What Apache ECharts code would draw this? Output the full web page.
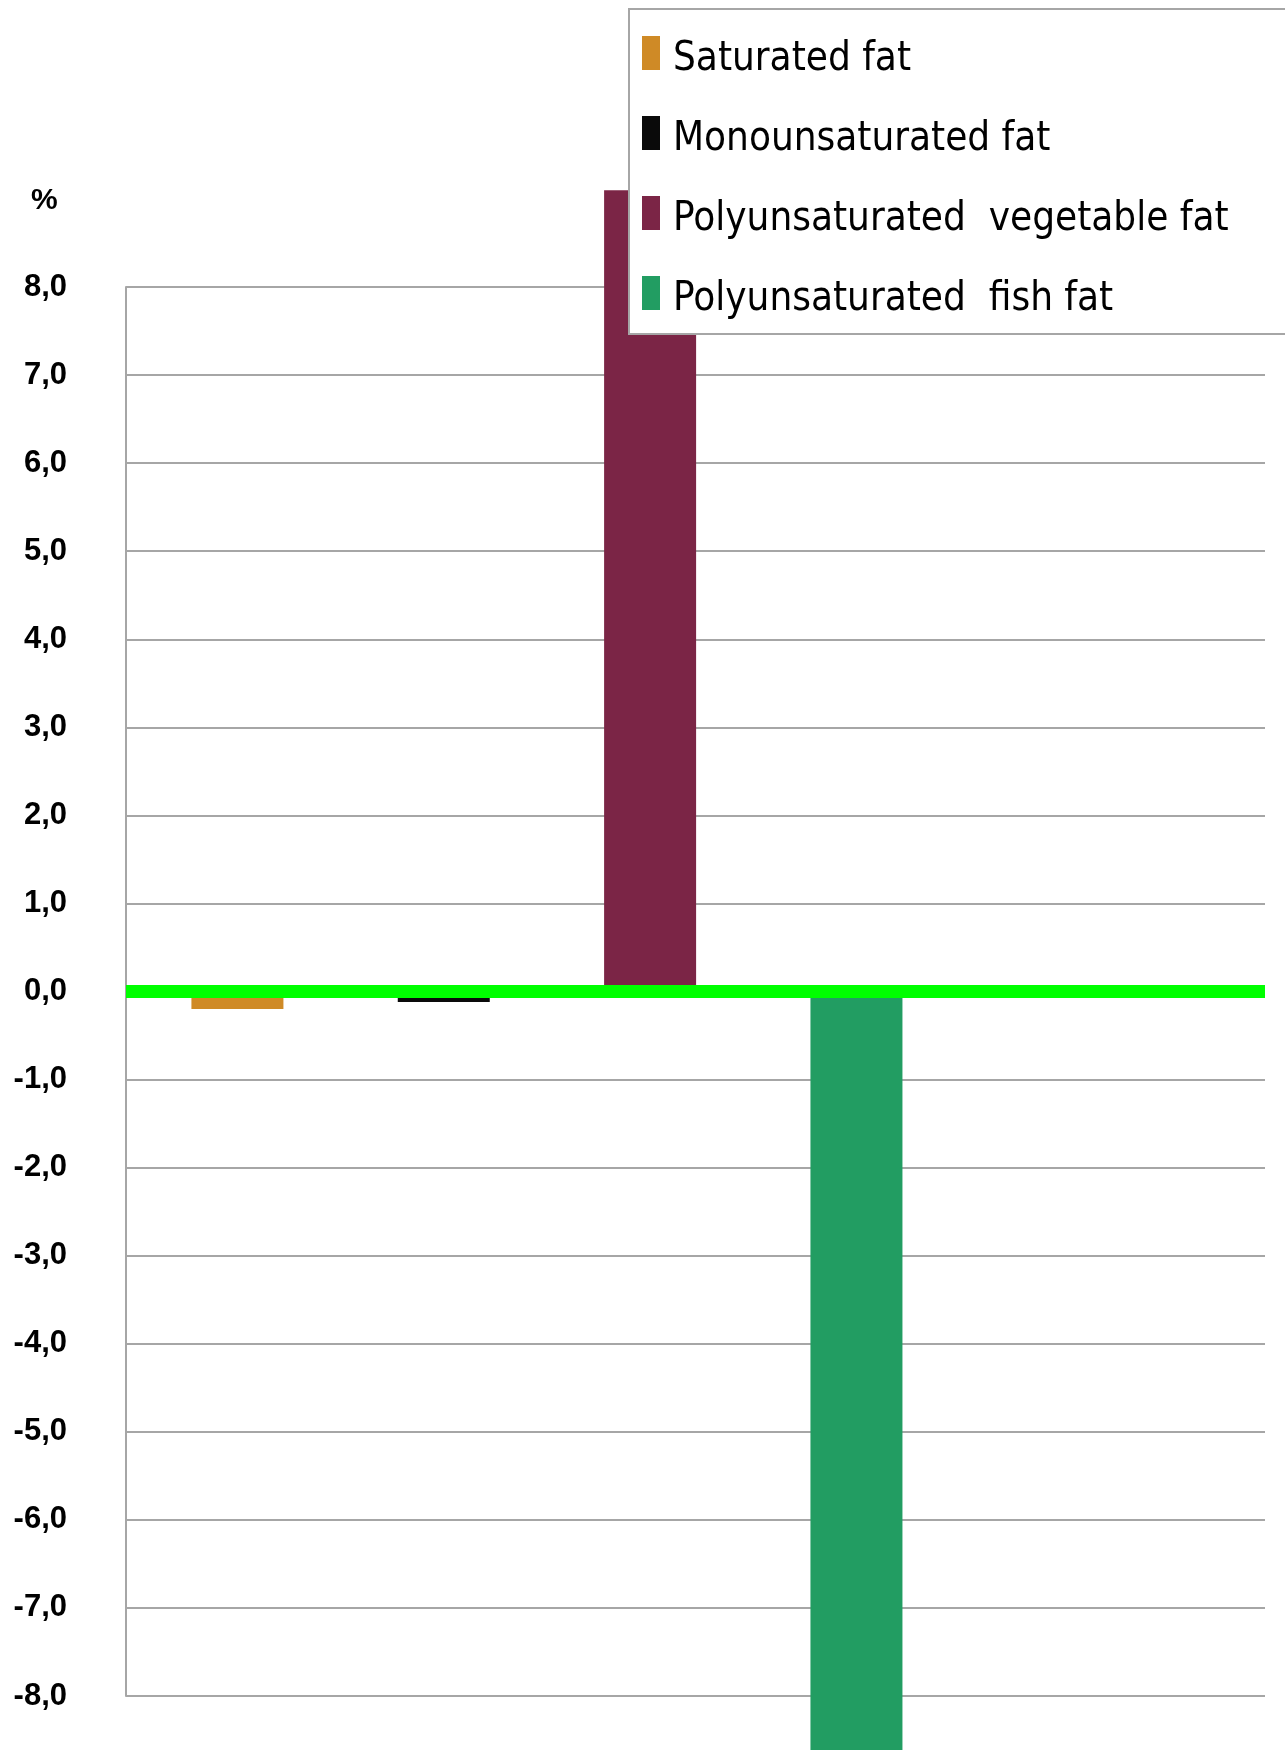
<!DOCTYPE html>
<html>
<head>
<meta charset="utf-8">
<script src="https://cdn.jsdelivr.net/npm/echarts@6/dist/echarts.min.js"></script>
<style>
  html, body { margin: 0; padding: 0; background: #ffffff; }
  #chart { width: 1285px; height: 1750px; }
</style>
</head>
<body>
<div id="chart"></div>
<script>
// Change in energy share (%) by type of fat
const fatTypes = [
  'Saturated fat',
  'Monounsaturated fat',
  'Polyunsaturated  vegetable fat',
  'Polyunsaturated  fish fat'
];
const fatValues = [-0.2, -0.12, 9.1, -9.2];
const fatColors = ['#cf8a26', '#0a0a0a', '#7b2546', '#229d62'];
const yTicks = [-8, -7, -6, -5, -4, -3, -2, -1, 0, 1, 2, 3, 4, 5, 6, 7, 8];

const boldSans = '"Liberation Sans", Arial, sans-serif';
const legendFont = '"DejaVu Sans Condensed", "DejaVu Sans", sans-serif';

const chart = echarts.init(document.getElementById('chart'), null, { renderer: 'canvas' });

const series = fatTypes.map((name, i) => ({
  name: name,
  type: 'bar',
  stack: 'fat',
  barWidth: 92,
  clip: false,
  itemStyle: { color: fatColors[i] },
  data: [[i, fatValues[i]]]
}));

chart.setOption({
  animation: false,
  backgroundColor: '#ffffff',
  color: fatColors,
  title: {
    text: '%',
    left: 26,
    top: 181,
    textStyle: {
      fontFamily: boldSans,
      fontWeight: 'bold',
      fontSize: 30,
      color: '#000000'
    }
  },
  grid: { left: 126, right: 20, top: 287, bottom: 54, containLabel: false },
  xAxis: {
    type: 'value',
    min: -0.54,
    max: 4.98,
    z: 3,
    axisLine: { show: true, onZero: true, lineStyle: { color: '#00ff00', width: 13, cap: 'butt' } },
    axisTick: { show: false },
    axisLabel: { show: false },
    splitLine: { show: false }
  },
  yAxis: {
    type: 'value',
    min: yTicks[0],
    max: yTicks[yTicks.length - 1],
    interval: 1,
    axisLine: { show: true, onZero: false, lineStyle: { color: '#a6a6a6', width: 2 } },
    axisTick: { show: false },
    splitLine: { show: true, lineStyle: { color: '#a6a6a6', width: 2 } },
    axisLabel: {
      margin: 59,
      color: '#000000',
      fontFamily: boldSans,
      fontWeight: 'bold',
      fontSize: 31,
      formatter: v => v.toFixed(1).replace('.', ',')
    }
  },
  legend: {
    orient: 'vertical',
    left: 642,
    top: 33,
    padding: 0,
    itemWidth: 18,
    itemHeight: 34,
    itemGap: 33,
    icon: 'rect',
    data: fatTypes,
    formatter: name => '{s|}{t|' + name + '}',
    textStyle: {
      fontFamily: legendFont,
      fontSize: 40,
      color: '#000000',
      rich: {
        s: { lineHeight: 54, width: 8 },
        t: { fontFamily: legendFont, fontSize: 40, lineHeight: 40, verticalAlign: 'bottom', color: '#000000' }
      }
    }
  },
  graphic: [{
    type: 'rect',
    z: 3,
    shape: { x: 629, y: 9, width: 720, height: 325 },
    style: { fill: '#ffffff', stroke: '#a6a6a6', lineWidth: 2 }
  }],
  series: series
});
</script>
</body>
</html>
